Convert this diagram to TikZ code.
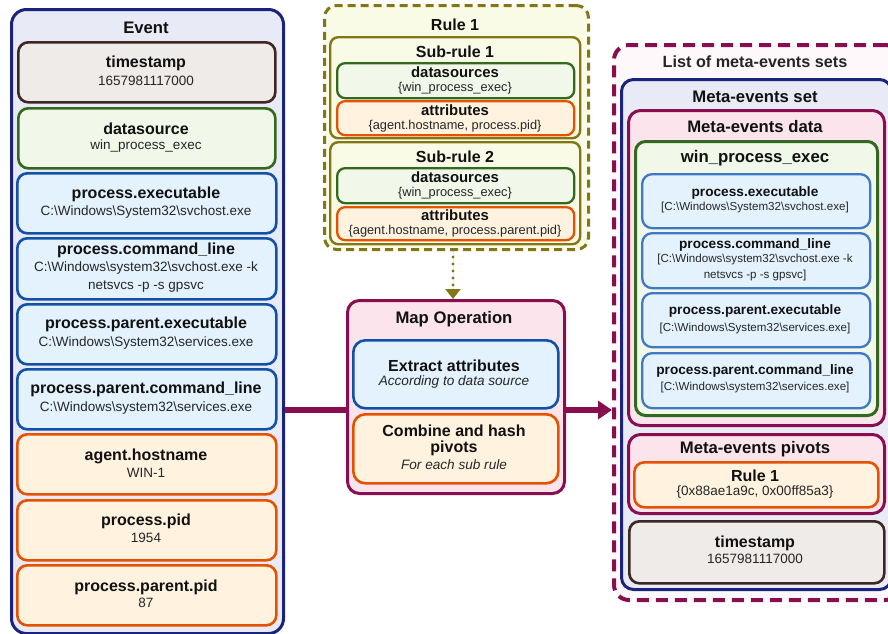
\documentclass[tikz,border=0pt]{standalone}
\usepackage{fontspec}
\setmainfont{Liberation Sans}
\usetikzlibrary{arrows.meta}
\definecolor{navy}{HTML}{1A237E}
\definecolor{navyfill}{HTML}{E8EAF6}
\definecolor{brownb}{HTML}{3E2723}
\definecolor{brownf}{HTML}{EFEBE9}
\definecolor{greenb}{HTML}{33691E}
\definecolor{greenf}{HTML}{F1F8E9}
\definecolor{blueb}{HTML}{1151A8}
\definecolor{bluef}{HTML}{E3F2FD}
\definecolor{lblueb}{HTML}{3F78C4}
\definecolor{orangeb}{HTML}{E65100}
\definecolor{orangef}{HTML}{FFF3E0}
\definecolor{oliveb}{HTML}{827717}
\definecolor{olivef}{HTML}{F9FBE7}
\definecolor{mag}{HTML}{880E4F}
\definecolor{magf}{HTML}{FCE4EC}
\definecolor{listf}{HTML}{FFF8FB}
\definecolor{txt}{HTML}{111111}
\definecolor{txt2}{HTML}{262626}
\newcommand\boxat[6]{\node[#6, anchor=north west, minimum width=#4pt, minimum height=#5pt, inner sep=0pt] (#1) at (#2,#3) {};}
\tikzset{
  basebox/.style={draw, rounded corners=10pt, line width=2.6pt},
  evbox/.style={basebox, draw=navy, fill=navyfill, line width=3pt, rounded corners=15pt},
  tsbox/.style={basebox, draw=brownb, fill=brownf},
  dsbox/.style={basebox, draw=greenb, fill=greenf},
  prbox/.style={basebox, draw=blueb, fill=bluef},
  lprbox/.style={basebox, draw=lblueb, fill=bluef, line width=2.3pt},
  orbox/.style={basebox, draw=orangeb, fill=orangef},
  rulebox/.style={basebox, draw=oliveb, fill=olivef, line width=3pt, dash pattern=on 8pt off 5pt, rounded corners=12pt},
  subbox/.style={basebox, draw=oliveb, fill=olivef, line width=2.4pt, rounded corners=8pt},
  smallbox/.style={basebox, rounded corners=8pt, line width=2.3pt},
  mapbox/.style={basebox, draw=mag, fill=magf, line width=3pt, rounded corners=12pt},
  listbox/.style={basebox, draw=mag, fill=listf, line width=4pt, dash pattern=on 12pt off 7pt, rounded corners=15pt},
  pinkbox/.style={basebox, draw=mag, fill=magf, line width=3pt, rounded corners=12pt},
  ttl/.style={font=\fontsize{16.7}{19}\selectfont\bfseries, text=txt, inner sep=0pt},
  mttl/.style={font=\fontsize{16}{19}\selectfont\bfseries, text=txt, inner sep=0pt},
  lab/.style={font=\fontsize{16}{18}\selectfont\bfseries, text=txt, inner sep=0pt},
  val/.style={font=\fontsize{13.5}{18}\selectfont, text=txt2, inner sep=0pt, align=center},
  slab/.style={font=\fontsize{14.9}{16}\selectfont\bfseries, text=txt, inner sep=0pt},
  sval/.style={font=\fontsize{12.8}{15}\selectfont, text=txt2, inner sep=0pt},
  rlab/.style={font=\fontsize{13.65}{16}\selectfont\bfseries, text=txt, inner sep=0pt},
  rval/.style={font=\fontsize{11.6}{16}\selectfont, text=txt2, inner sep=0pt, align=center},
  ital/.style={font=\fontsize{13.6}{16}\selectfont\itshape, text=txt2, inner sep=0pt},
  flow/.style={draw=mag, line width=5.5pt},
}
\begin{document}
\begin{tikzpicture}[x=1pt,y=-1pt]
\useasboundingbox (0,0) rectangle (888,633);
\begin{scope}
\clip (0,0) rectangle (888,633);
% ---------------- Event column ----------------
\boxat{event}{10}{8}{272}{624}{evbox}
\node[ttl] (eventT) at (146,28) {Event};
\boxat{ets}{17}{41}{257}{60}{tsbox}
\node[lab] at (146,63) {timestamp};
\node[val] at (146,81) {1657981117000};
\boxat{eds}{17}{107}{257}{60}{dsbox}
\node[lab] at (146,129) {datasource};
\node[val] at (146,146) {win\_process\_exec};
\boxat{epe}{16}{172}{259}{60}{prbox}
\node[lab] at (146,194) {process.executable};
\node[val] at (146,212) {C:\textbackslash Windows\textbackslash System32\textbackslash svchost.exe};
\boxat{epcl}{16}{237}{259}{61}{prbox}
\node[lab] at (146,250) {process.command\_line};
\node[val] at (146,277) {C:\textbackslash Windows\textbackslash system32\textbackslash svchost.exe -k\\netsvcs -p -s gpsvc};
\boxat{eppe}{16}{303}{259}{60}{prbox}
\node[lab] at (146,324) {process.parent.executable};
\node[val] at (146,343) {C:\textbackslash Windows\textbackslash System32\textbackslash services.exe};
\boxat{eppcl}{16}{368}{259}{60}{prbox}
\node[lab] at (146,389) {process.parent.command\_line};
\node[val] at (146,408) {C:\textbackslash Windows\textbackslash system32\textbackslash services.exe};
\boxat{eah}{16}{433}{259}{60}{orbox}
\node[lab] at (146,456) {agent.hostname};
\node[val] at (146,473) {WIN-1};
\boxat{epid}{16}{499}{259}{60}{orbox}
\node[lab] at (146,521) {process.pid};
\node[val] at (146,538) {1954};
\boxat{eppid}{16}{564}{259}{60}{orbox}
\node[lab] at (146,587) {process.parent.pid};
\node[val] at (146,603) {87};
% ---------------- Rule 1 ----------------
\boxat{rule}{323}{4}{264}{244}{rulebox}
\node[mttl] at (455,25) {Rule 1};
\boxat{sr1}{329}{36}{250}{101}{subbox}
\node[mttl] at (455,52) {Sub-rule 1};
\boxat{sr1ds}{336}{62}{237}{35}{smallbox, draw=greenb, fill=greenf}
\node[slab] at (455,72) {datasources};
\node[sval] at (455,88) {\{win\_process\_exec\}};
\boxat{sr1at}{336}{100}{237}{34}{smallbox, draw=orangeb, fill=orangef}
\node[slab] at (455,110) {attributes};
\node[sval] at (455,126) {\{agent.hostname, process.pid\}};
\boxat{sr2}{329}{141}{250}{102}{subbox}
\node[mttl] at (455,157) {Sub-rule 2};
\boxat{sr2ds}{336}{167}{237}{35}{smallbox, draw=greenb, fill=greenf}
\node[slab] at (455,177) {datasources};
\node[sval] at (455,193) {\{win\_process\_exec\}};
\boxat{sr2at}{336}{206}{237}{33}{smallbox, draw=orangeb, fill=orangef}
\node[slab] at (455,215) {attributes};
\node[sval] at (455,231) {\{agent.hostname, process.parent.pid\}};
% ---------------- Map operation ----------------
\boxat{map}{346}{299}{217}{193}{mapbox}
\node[ttl] at (454,319) {Map Operation};
\boxat{extract}{352}{339}{205}{68}{basebox, draw=blueb, fill=bluef, rounded corners=12pt}
\node[mttl] at (454,366) {Extract attributes};
\node[ital] at (454,382) {According to data source};
\boxat{combine}{352}{413}{205}{69}{orbox, rounded corners=12pt}
\node[mttl] at (454,431) {Combine and hash};
\node[mttl] at (454,448) {pivots};
\node[ital] at (454,465) {For each sub rule};
% ---------------- List of meta-events sets ----------------
\boxat{list}{612}{43}{286}{555}{listbox}
\node[font=\fontsize{16.2}{18}\selectfont\bfseries, text=txt2, inner sep=0pt] at (755,62) {List of meta-events sets};
\boxat{mset}{620}{78}{270}{510}{evbox, rounded corners=12pt}
\node[ttl] at (755,97) {Meta-events set};
\boxat{mdata}{627}{109}{256}{315}{pinkbox}
\node[ttl] at (755,127) {Meta-events data};
\boxat{wpe}{634}{140}{242}{274}{basebox, draw=greenb, fill=greenf, line width=3pt, rounded corners=10pt}
\node[ttl, font=\fontsize{16.8}{19}\selectfont\bfseries] at (755,158) {win\_process\_exec};
\boxat{rpe}{641}{173}{228}{54}{lprbox}
\node[rlab] at (755,193) {process.executable};
\node[rval] at (755,207) {[C:\textbackslash Windows\textbackslash System32\textbackslash svchost.exe]};
\boxat{rpcl}{641}{232}{228}{55}{lprbox}
\node[rlab] at (755,245) {process.command\_line};
\node[rval] at (755,267) {[C:\textbackslash Windows\textbackslash system32\textbackslash svchost.exe -k\\netsvcs -p -s gpsvc]};
\boxat{rppe}{641}{292}{228}{54}{lprbox}
\node[rlab] at (755,311) {process.parent.executable};
\node[rval] at (755,328) {[C:\textbackslash Windows\textbackslash System32\textbackslash services.exe]};
\boxat{rppcl}{641}{352}{228}{55}{lprbox}
\node[rlab] at (755,371) {process.parent.command\_line};
\node[rval] at (755,387) {[C:\textbackslash Windows\textbackslash system32\textbackslash services.exe]};
\boxat{mpiv}{627}{433}{256}{79}{pinkbox}
\node[ttl] at (755,449) {Meta-events pivots};
\boxat{prule}{633}{461}{244}{45}{orbox}
\node[lab] at (755,476) {Rule 1};
\node[val] at (755,492) {\{0x88ae1a9c, 0x00ff85a3\}};
\boxat{mts}{628}{520}{255}{62}{tsbox}
\node[lab] at (755,543) {timestamp};
\node[val] at (755,559) {1657981117000};
% ---------------- connectors ----------------
\coordinate (dottop) at (453,250);
\coordinate (flowy) at (282,410);
\draw[draw=oliveb, line width=3.4pt, dash pattern=on 0pt off 7pt, line cap=round,
      -{Triangle[length=10pt, width=15pt, line cap=butt, sep=0pt]}, fill=oliveb]
  (dottop) -- (dottop |- map.north);
\draw[flow] (flowy -| event.east) -- (flowy -| map.west);
\draw[flow, -{Triangle[length=14pt, width=18pt]}, fill=mag] (flowy -| map.east) -- (flowy -| list.west);
\end{scope}
\end{tikzpicture}
\end{document}
